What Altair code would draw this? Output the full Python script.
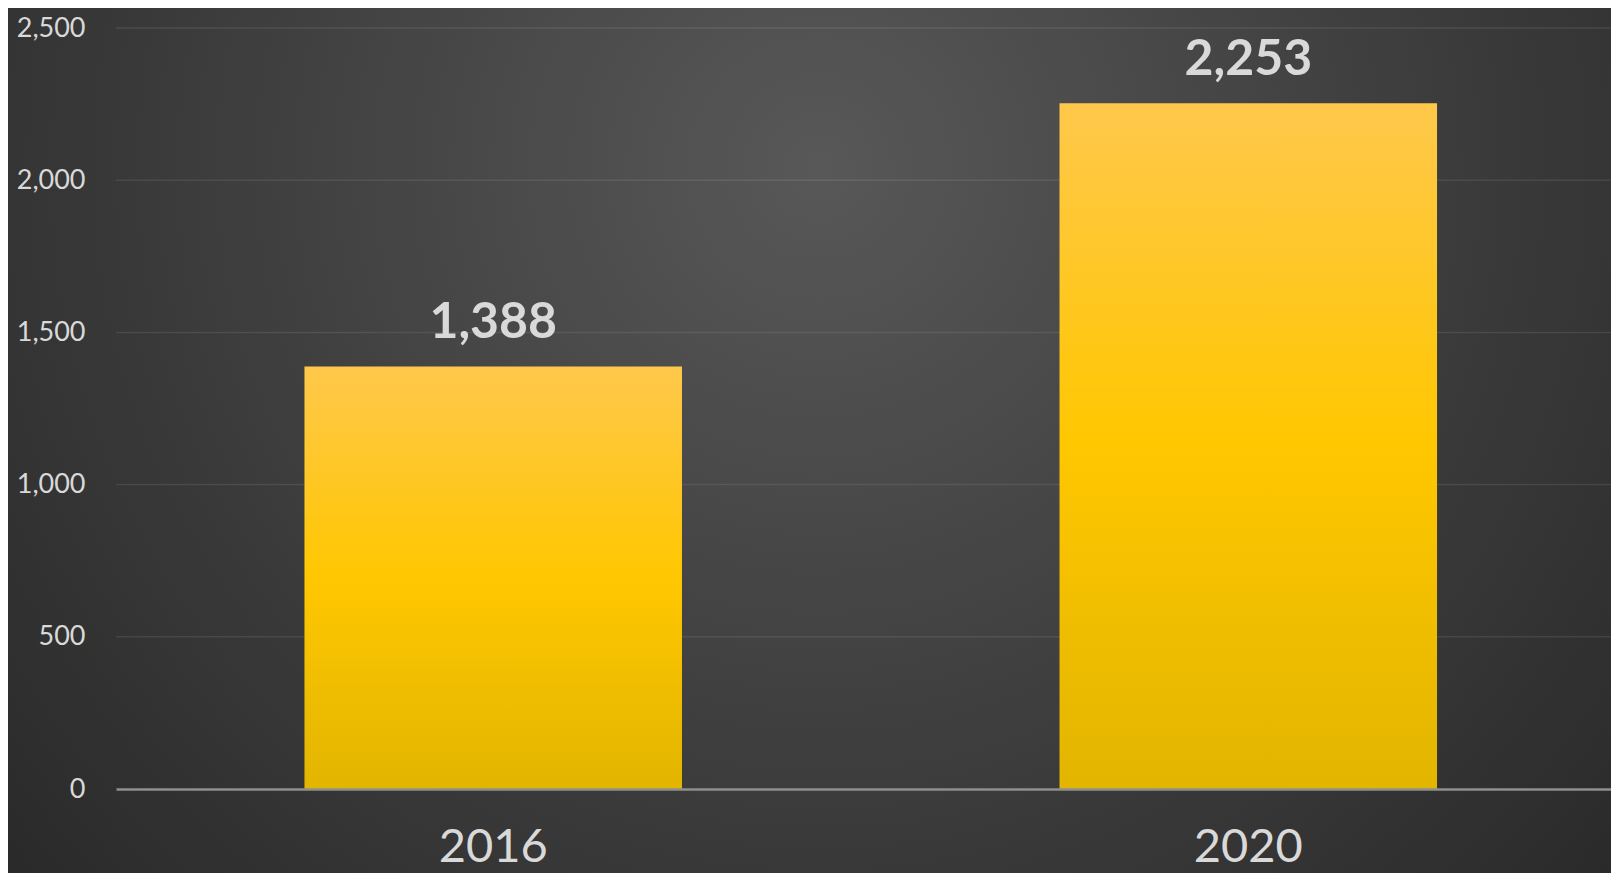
import altair as alt
import pandas as pd

years = ["2016", "2020"]
values = [1388, 2253]
grid_values = [500, 1000, 1500, 2000, 2500]
tick_values = [0, 500, 1000, 1500, 2000, 2500]

W = 1495
H = 761

df = pd.DataFrame({"year": years, "value": values})
grid_df = pd.DataFrame({"v": grid_values})

x_scale = alt.Scale(paddingInner=0.5, paddingOuter=0.24, align=0.52)
y_scale = alt.Scale(domain=[0, 2500], nice=False)

bg = alt.Chart(alt.Data(values=[{"a": 1}])).mark_rect(
    fill=alt.Gradient(
        gradient="radial",
        x1=0.5, y1=0.33, r1=0.0,
        x2=0.5, y2=0.33, r2=0.75,
        stops=[
            alt.GradientStop(offset=0, color="#585858"),
            alt.GradientStop(offset=0.55, color="#3a3a3a"),
            alt.GradientStop(offset=1, color="#242424"),
        ],
    ),
    strokeWidth=0,
).encode(
    x=alt.value(-110), x2=alt.value(W + 20),
    y=alt.value(-30), y2=alt.value(H + 100),
)

grid = alt.Chart(grid_df).mark_rule(color="#ffffff", opacity=0.09, strokeWidth=1.5).encode(
    y=alt.Y("v:Q", scale=y_scale),
    x=alt.value(0), x2=alt.value(W),
)

bars = alt.Chart(df).mark_bar(
    fill=alt.Gradient(
        gradient="linear",
        x1=0, y1=0, x2=0, y2=1,
        stops=[
            alt.GradientStop(offset=0, color="#FFC84B"),
            alt.GradientStop(offset=0.5, color="#FFC700"),
            alt.GradientStop(offset=1, color="#E2B500"),
        ],
    ),
).encode(
    x=alt.X("year:N", scale=x_scale, sort=years,
            axis=alt.Axis(title=None, labelAngle=0, ticks=False, grid=False,
                          domain=True, domainColor="#8f8f8f", domainWidth=2.5,
                          labelFont="Lato", labelFontSize=47, labelColor="#d9d9d9",
                          labelPadding=35, zindex=1)),
    y=alt.Y("value:Q", scale=y_scale,
            axis=alt.Axis(title=None, values=tick_values,
                          format=",.0f", grid=False, domain=False, ticks=False,
                          labelFont="Lato", labelFontSize=27, labelColor="#d9d9d9",
                          labelPadding=31, zindex=1)),
)

labels = alt.Chart(df).mark_text(
    font="Lato", fontSize=50, fontWeight="bold", color="#d9d9d9",
    baseline="alphabetic", dy=-28,
).encode(
    x=alt.X("year:N", scale=x_scale, sort=years),
    y=alt.Y("value:Q", scale=y_scale),
    text=alt.Text("value:Q", format=",.0f"),
)

chart = alt.layer(bg, grid, bars, labels).properties(
    width=W, height=H,
    autosize=alt.AutoSizeParams(type="none"),
    padding={"left": 108, "top": 20, "right": 0, "bottom": 84},
    background="#262626",
).configure_view(stroke=None)

chart.save("out.html", embed_options={"renderer": "svg", "actions": False})
